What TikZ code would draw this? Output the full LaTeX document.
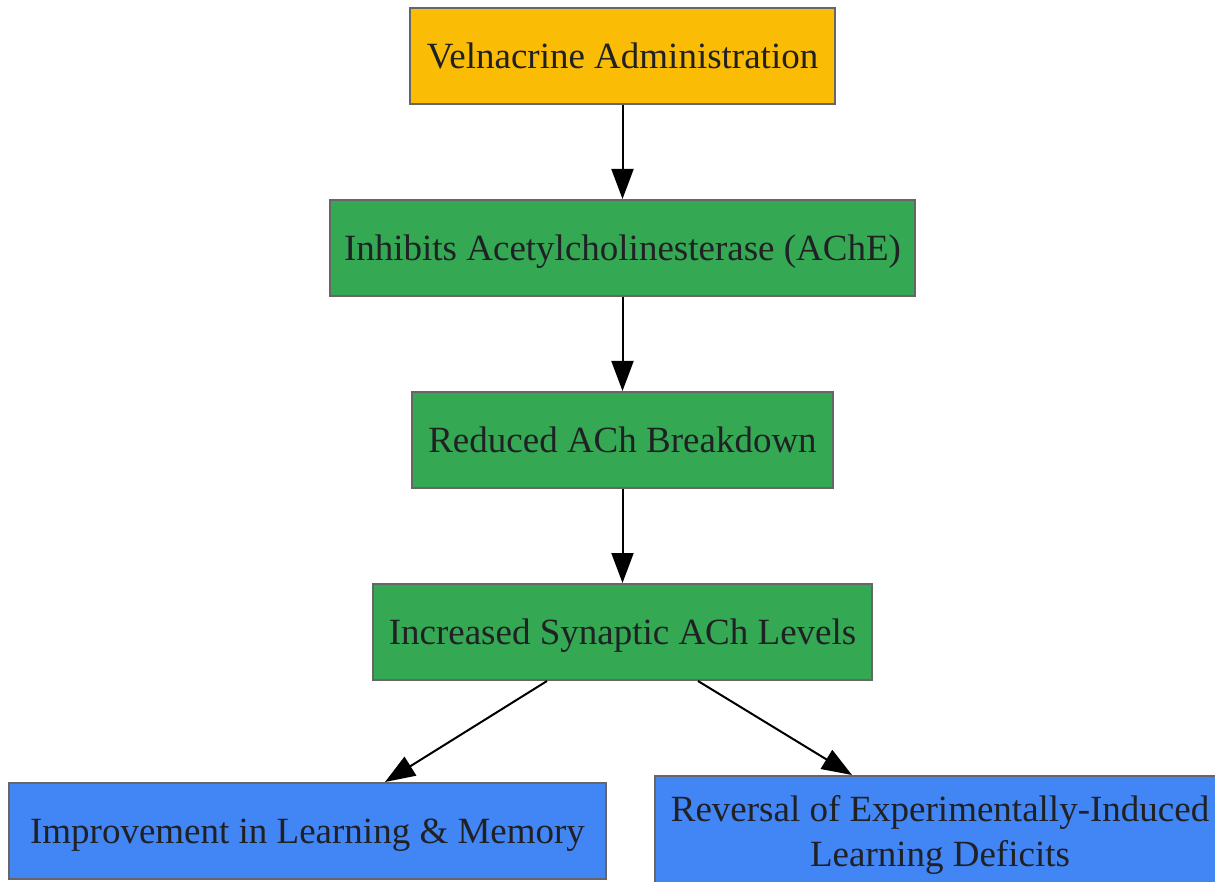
\documentclass[tikz,border=0pt]{standalone}
\usepackage{fontspec}
\setmainfont{Liberation Serif}
\usepackage{xcolor}
\usetikzlibrary{arrows.meta}
\definecolor{flowYellow}{RGB}{251,188,5}
\definecolor{flowGreen}{RGB}{52,168,83}
\definecolor{flowBlue}{RGB}{66,133,244}
\definecolor{flowEdge}{RGB}{102,102,102}
\definecolor{flowText}{RGB}{32,33,36}
\tikzset{
  stepbox/.style={draw=flowEdge,line width=2pt,inner sep=0pt,minimum height=96pt,
    text=flowText,align=center,text depth=0pt,font=\fontsize{37}{45}\selectfont},
  flowarrow/.style={-{Triangle[length=30pt,width=22pt]},line width=2pt,black}
}
\begin{document}
\begin{tikzpicture}[x=1pt,y=1pt]
  \useasboundingbox (0,0) rectangle (1215,-882);
  \clip (0,0) rectangle (1215,-882);
  \node[stepbox,fill=flowYellow,minimum width=425pt] (admin) at (622.5,-56) {Velnacrine Administration};
  \node[stepbox,fill=flowGreen,minimum width=585pt] (ache) at (622.5,-248) {Inhibits Acetylcholinesterase (AChE)};
  \node[stepbox,fill=flowGreen,minimum width=421pt] (breakdown) at (622.5,-440) {Reduced ACh Breakdown};
  \node[stepbox,fill=flowGreen,minimum width=499pt] (levels) at (622.5,-632) {Increased Synaptic ACh Levels};
  \node[stepbox,fill=flowBlue,minimum width=597pt] (memory) at (307.5,-831) {Improvement in Learning \& Memory};
  \node[stepbox,fill=flowBlue,minimum width=570pt,minimum height=110pt] (deficits) at (940,-831) {Reversal of Experimentally-Induced\\Learning Deficits};
  \draw[flowarrow] (admin) -- (ache);
  \draw[flowarrow] (ache) -- (breakdown);
  \draw[flowarrow] (breakdown) -- (levels);
  \draw[flowarrow] ([xshift=-75.5pt]levels.south) -- ([xshift=77.5pt]memory.north);
  \draw[flowarrow] ([xshift=75.5pt]levels.south) -- ([xshift=-88pt]deficits.north);
\end{tikzpicture}
\end{document}
